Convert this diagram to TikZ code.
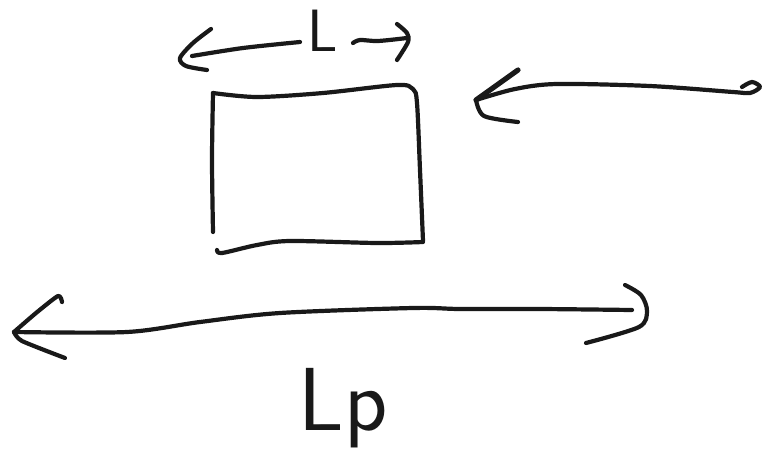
\documentclass[tikz,border=0pt]{standalone}
\begin{document}
\begin{tikzpicture}[x=1pt,y=-1pt,
  ink/.style={line width=4.2pt,line cap=round,line join=round,black!90},
  heavy/.style={ink,line width=5.2pt},
  hand/.style={black!90,font=\sffamily\Huge,inner sep=0pt,transform shape}]
\useasboundingbox (0,0) rectangle (764,472);

% the block
\draw[ink] plot[smooth,tension=0.5] coordinates {(213,93) (257,97) (323,93) (397,85) (413,89) (417,103) (420,170) (423,241)};
\draw[ink] plot[smooth,tension=0.5] coordinates {(423,242) (377,243) (290,241) (257,245) (222,253) (217,250)};
\draw[ink] plot[smooth,tension=0.5] coordinates {(213,93) (212,160) (213,232)};

% width of the block
\draw[ink] plot[smooth,tension=0.5] coordinates {(192,56) (243,48) (300,42)};
\draw[ink] plot[smooth,tension=0.5] coordinates {(211,29) (193,43) (180,58) (186,66) (207,70)};
\draw[ink] plot[smooth,tension=0.5] coordinates {(353,43) (360,40) (378,41) (407,38)};
\draw[ink] plot[smooth,tension=0.5] coordinates {(397,24) (407,33) (408,42) (397,60)};
\node[hand,anchor=base west,scale=2.4] (lsmall) at (307,51) {L};

% incoming arrow on the right
\draw[ink] plot[smooth,tension=0.5] coordinates {(476,100) (515,89) (557,84) (650,86) (733,92) (750,93) (760,87) (752,82) (742,87)};
\draw[heavy] (518,70) -- (476,100);
\draw[ink] plot[smooth,tension=0.5] coordinates {(476,100) (484,116) (518,122)};

% overall length
\draw[ink] plot[smooth,tension=0.5] coordinates {(14,332) (127,332) (200,322) (280,313) (413,308) (460,309) (540,309) (632,310)};
\draw[ink] plot[smooth,tension=0.4] coordinates {(62,302) (58,296) (36,313) (14,332)};
\draw[ink] plot[smooth,tension=0.4] coordinates {(14,332) (22,341) (65,358)};
\draw[ink] plot[smooth,tension=0.5] coordinates {(625,285) (641,295) (647,311) (639,327) (586,343)};
\node[hand,anchor=base west,scale=3.6] (lp) at (298,430) {Lp};
\end{tikzpicture}
\end{document}
